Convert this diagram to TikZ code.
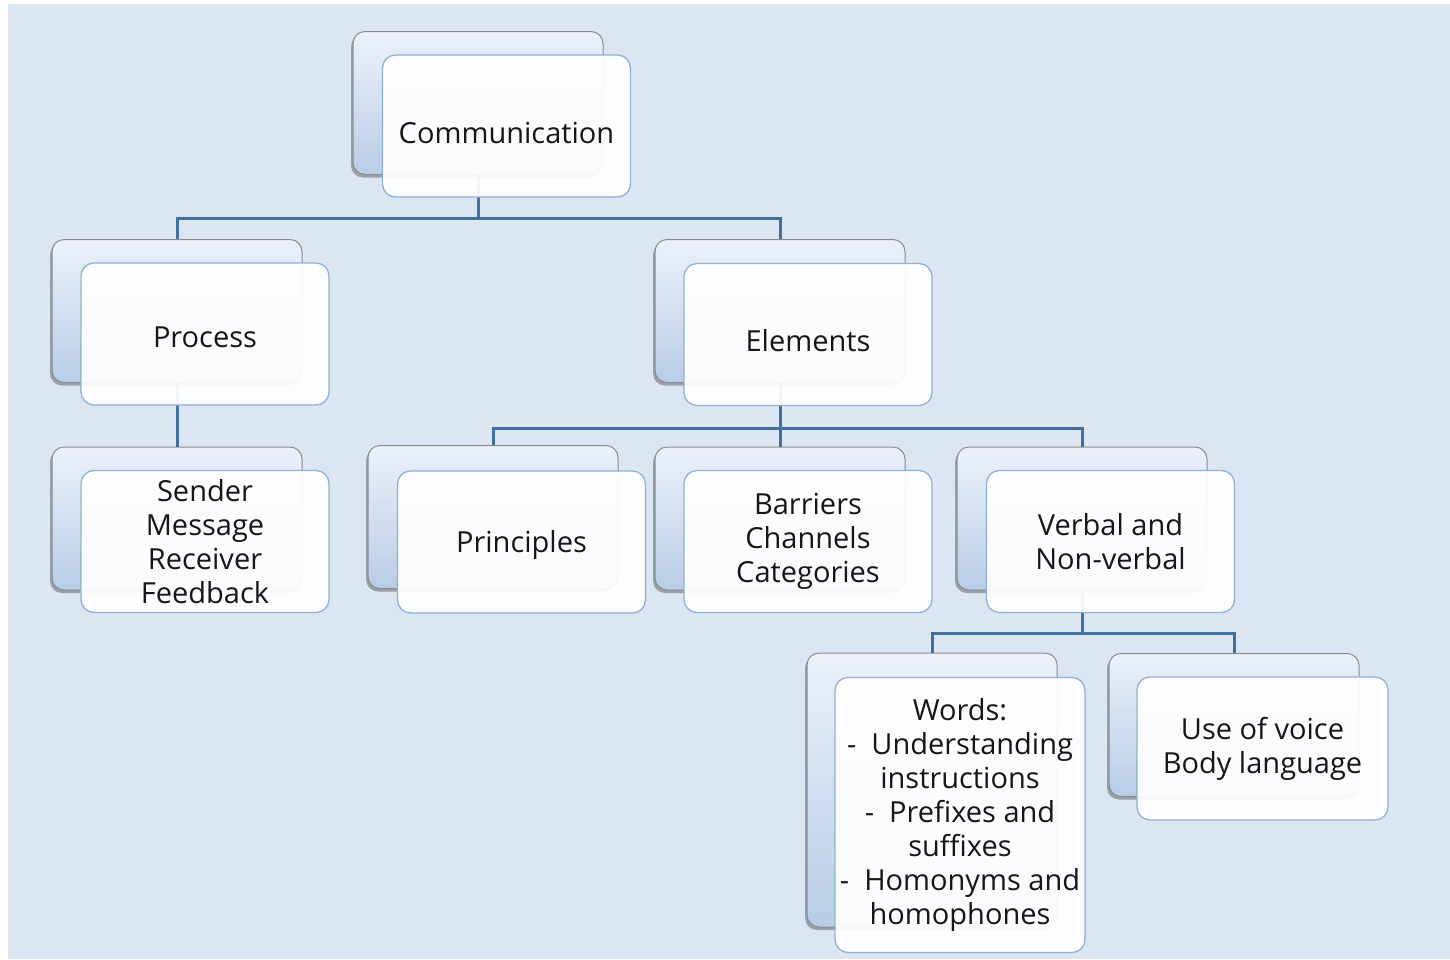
\documentclass[tikz,border=0pt]{standalone}
\usepackage{fontspec}
\setmainfont{Open Sans}
\usetikzlibrary{shadows}
\definecolor{bgblue}{RGB}{220,230,242}
\definecolor{linkblue}{RGB}{66,112,158}
\definecolor{backtop}{RGB}{236,241,249}
\definecolor{backbot}{RGB}{184,204,230}
\definecolor{backline}{RGB}{135,140,148}
\definecolor{frontline}{RGB}{146,176,214}
\definecolor{inktext}{RGB}{22,22,26}
\tikzset{
  backbox/.style={rectangle, rounded corners=12pt, draw=backline, line width=1pt,
    top color=backtop, bottom color=backbot, minimum width=250pt, minimum height=143pt,
    inner sep=0pt, drop shadow={shadow xshift=-2pt, shadow yshift=-3pt, opacity=0.3, fill=black}},
  frontbox/.style={rectangle, rounded corners=13pt, draw=frontline, line width=1.3pt,
    fill=white, fill opacity=0.93, text opacity=1, minimum width=248pt, minimum height=142pt,
    inner sep=0pt, align=center, text=inktext,
    font=\fontsize{29}{34}\selectfont},
  link/.style={draw=linkblue, line width=3pt}
}
% lower a label inside its card while keeping its natural dimensions
\newcommand\lowered[2]{\raisebox{-#1pt}[\height][\depth]{#2}}
\begin{document}
\begin{tikzpicture}[x=1pt, y=-1pt]
  \useasboundingbox (0,0) rectangle (1450,959);
  \fill[bgblue] (8,4) rectangle (1450,959);

  % rear cards
  \node[backbox] (commB) at (478,103) {};
  \node[backbox] (procB) at (177,311) {};
  \node[backbox] (elemB) at (780,311) {};
  \node[backbox] (sendB) at (177,518.5) {};
  \node[backbox] (prinB) at (493,517) {};
  \node[backbox] (barrB) at (780,518.5) {};
  \node[backbox] (verbB) at (1082,518.5) {};
  \node[backbox, minimum height=274pt] (wordB) at (932,790) {};
  \node[backbox] (voicB) at (1234,725) {};

  % tree connectors
  \coordinate (j1) at (478,218);
  \coordinate (j2) at (780,428);
  \coordinate (j3) at (1082,633);
  \draw[link] (commB.south) -- (j1) -| (procB.north);
  \draw[link] (j1) -| (elemB.north);
  \draw[link] (procB.south) -- (sendB.north);
  \draw[link] (elemB.south) -- (barrB.north);
  \draw[link] (j2) -| (prinB.north);
  \draw[link] (j2) -| (verbB.north);
  \draw[link] (verbB.south) -- (j3) -| (wordB.north);
  \draw[link] (j3) -| (voicB.north);

  % front cards with labels
  \node[frontbox] (commF) at (506.5,126) {\lowered{7}{Communication}};
  \node[frontbox] (procF) at (205,334) {\lowered{3}{Process}};
  \node[frontbox] (elemF) at (808,334.5) {\lowered{6}{Elements}};
  \node[frontbox] (sendF) at (205,541.5) {Sender\\Message\\Receiver\\Feedback};
  \node[frontbox] (prinF) at (521.5,542) {\lowered{3}{Principles}};
  \node[frontbox] (barrF) at (808,541.5) {Barriers\\Channels\\Categories};
  \node[frontbox] (verbF) at (1110.5,541.5) {Verbal and\\Non-verbal};
  \node[frontbox, minimum width=250pt, minimum height=275pt] (wordF) at (960,815)
    {Words:\\-\ \ Understanding\\instructions\\-\ \ Prefixes and\\suffixes\\-\ \ Homonyms and\\homophones};
  \node[frontbox, minimum width=251pt, minimum height=143pt] (voicF) at (1262.5,748.5) {Use of voice\\Body language};
\end{tikzpicture}
\end{document}
